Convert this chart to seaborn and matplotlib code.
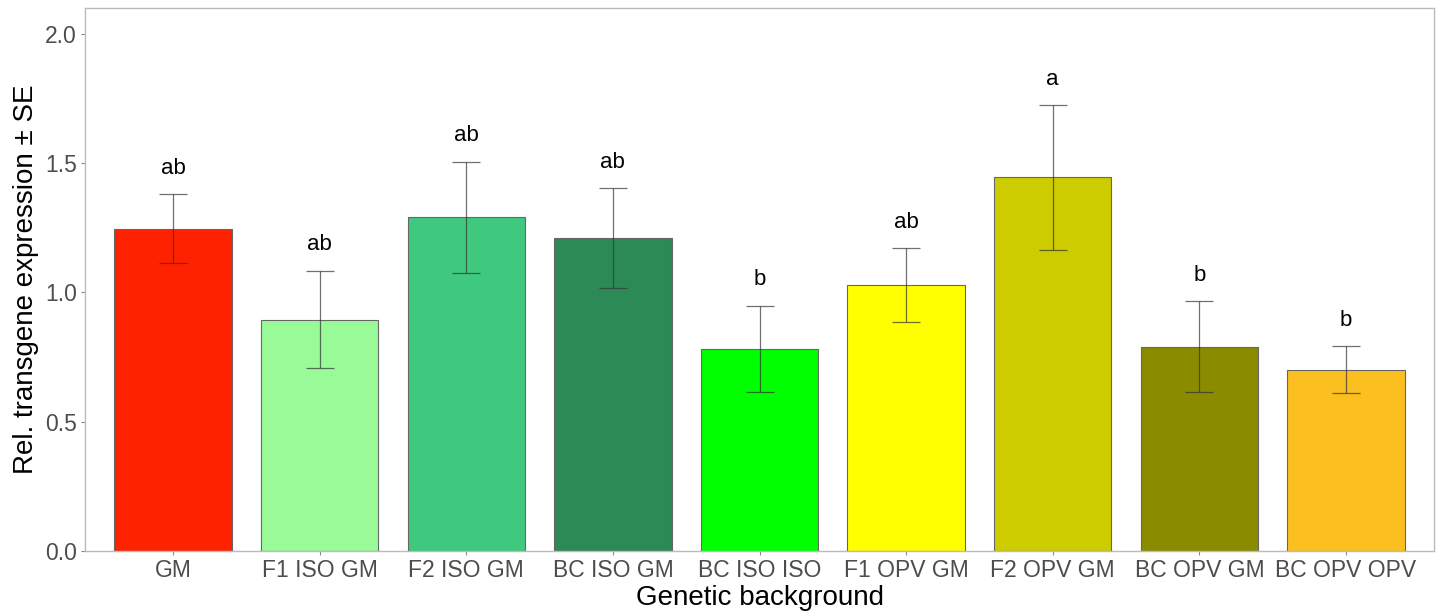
import matplotlib
matplotlib.use("Agg")
import matplotlib.pyplot as plt
import seaborn as sns
import pandas as pd

categories = ["GM", "F1 ISO GM", "F2 ISO GM", "BC ISO GM", "BC ISO ISO",
              "F1 OPV GM", "F2 OPV GM", "BC OPV GM", "BC OPV OPV"]
means = [1.246, 0.895, 1.290, 1.210, 0.781, 1.030, 1.447, 0.789, 0.701]
se_upper = [1.381, 1.084, 1.505, 1.403, 0.949, 1.172, 1.725, 0.967, 0.793]
se_lower = [1.114, 0.709, 1.075, 1.018, 0.615, 0.887, 1.164, 0.614, 0.611]
letters = ["ab", "ab", "ab", "ab", "b", "ab", "a", "b", "b"]
colors = ["#FF2200", "#98FB98", "#3EC97E", "#2B8A55", "#00FF00",
          "#FFFF00", "#CCCC00", "#8B8B00", "#FBBF20"]

sns.set_theme(style="white")
plt.rcParams["font.family"] = ["Liberation Sans", "DejaVu Sans"]

df = pd.DataFrame({"cat": categories, "mean": means,
                   "lo": se_lower, "hi": se_upper, "lab": letters})

fig = plt.figure(figsize=(14.39, 6.11), dpi=100)
ax = fig.add_axes([0.0591, 0.0982, 0.9374, 0.8887])

sns.barplot(data=df, x="cat", y="mean", hue="cat", palette=colors,
            order=categories, hue_order=categories, dodge=False,
            errorbar=None, width=0.8, edgecolor="#666666", linewidth=0.8,
            saturation=1, legend=False, ax=ax)

xs = list(range(len(categories)))
yerr = [[m - l for m, l in zip(means, se_lower)],
        [h - m for m, h in zip(means, se_upper)]]
ax.errorbar(xs, means, yerr=yerr, fmt="none", ecolor="#333333", alpha=0.7,
            elinewidth=0.9, capsize=10, capthick=0.9)

for x, h, lab in zip(xs, se_upper, letters):
    ax.text(x, h + 0.1, lab, ha="center", va="center", fontsize=16, color="black")

ax.set_xlim(-0.6, 8.6)
ax.set_ylim(0, 2.1)
ax.set_yticks([0.0, 0.5, 1.0, 1.5, 2.0])
ax.set_yticklabels(["0.0", "0.5", "1.0", "1.5", "2.0"])
ax.set_xlabel("Genetic background", fontsize=20, color="black", labelpad=2)
ax.set_ylabel("Rel. transgene expression \u00b1 SE", fontsize=20, color="black", labelpad=4)
ax.tick_params(axis="both", labelsize=16.5, labelcolor="#4D4D4D", colors="#888888",
               length=3, width=0.8, bottom=True, left=True, pad=3)
for s in ax.spines.values():
    s.set_color("#BBBBBB")
    s.set_linewidth(1.0)
ax.grid(False)

fig.savefig("out.png", dpi=100)
